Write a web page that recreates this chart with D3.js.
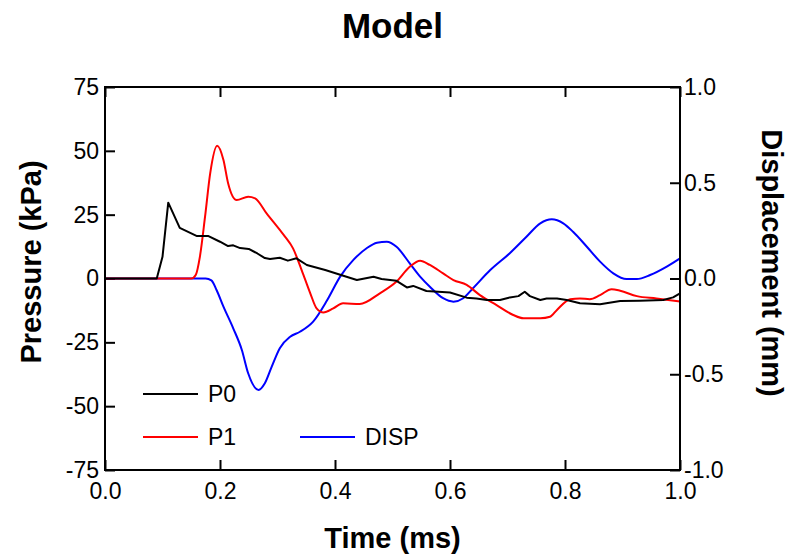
<!DOCTYPE html>
<html>
<head>
<meta charset="utf-8">
<script src="https://cdn.jsdelivr.net/npm/d3@7"></script>
<style>
  html, body { margin: 0; padding: 0; background: #fff; }
  svg { display: block; }
  text { font-family: "Liberation Sans", Arial, sans-serif; }
</style>
</head>
<body>
<svg id="chart" width="789" height="555"></svg>
<script>
// Time axis (ms)
const timeTicks = [0.0, 0.2, 0.4, 0.6, 0.8, 1.0];
// Pressure axis (kPa)
const pressureTicks = [75, 50, 25, 0, -25, -50, -75];
// Displacement axis (mm)
const dispTicks = [1.0, 0.5, 0.0, -0.5, -1.0];

// P0: [time (ms), pressure (kPa)]
const p0 = [
  [0.0, 0], [0.09, 0], [0.10, 8.5], [0.11, 29.7], [0.13, 19.8], [0.16, 16.6],
  [0.18, 16.6], [0.20, 14.4], [0.214, 12.7], [0.223, 13.0], [0.235, 11.9],
  [0.25, 11.6], [0.265, 9.8], [0.278, 8.0], [0.287, 7.6], [0.304, 8.1],
  [0.318, 7.0], [0.333, 7.9], [0.351, 5.3], [0.383, 3.3], [0.42, 0.7],
  [0.438, -0.6], [0.467, 0.7], [0.481, -0.2], [0.507, -0.9], [0.525, -3.5],
  [0.536, -2.9], [0.559, -4.9], [0.60, -5.5], [0.629, -7.5], [0.646, -7.8],
  [0.664, -8.4], [0.687, -8.4], [0.704, -7.4], [0.719, -6.9], [0.73, -5.2],
  [0.739, -6.9], [0.757, -8.4], [0.768, -7.8], [0.786, -7.8], [0.803, -8.4],
  [0.826, -9.7], [0.861, -10.1], [0.896, -8.8], [0.93, -8.7], [0.971, -8.4],
  [0.988, -7.4], [1.0, -5.8]
];

// P1: [time (ms), pressure (kPa)]
const p1 = [
  [0.0, 0], [0.15, 0], [0.158, 1.5], [0.165, 8.5], [0.174, 24.2], [0.183, 41.3],
  [0.195, 52.0], [0.206, 46.4], [0.214, 37.4], [0.229, 30.7], [0.249, 32.0],
  [0.261, 31.4], [0.281, 25.5], [0.304, 19.0], [0.313, 16.4], [0.327, 11.8],
  [0.342, 3.3], [0.357, -5.8], [0.368, -11.7], [0.38, -13.3], [0.397, -11.7],
  [0.414, -9.7], [0.443, -10.0], [0.478, -5.8], [0.507, -1.2], [0.53, 4.6],
  [0.548, 7.0], [0.565, 5.3], [0.588, 2.0], [0.606, -0.6], [0.629, -2.5],
  [0.652, -6.5], [0.681, -10.4], [0.71, -14.3], [0.728, -15.6], [0.757, -15.6],
  [0.774, -15.0], [0.786, -12.3], [0.809, -8.1], [0.826, -7.8], [0.843, -8.1],
  [0.861, -6.5], [0.881, -4.2], [0.896, -4.8], [0.925, -6.9], [0.959, -7.8],
  [1.0, -9.0]
];

// DISP: [time (ms), displacement (mm)]
const disp = [
  [0.0, 0], [0.175, 0], [0.185, -0.01], [0.194, -0.06], [0.206, -0.147],
  [0.223, -0.26], [0.238, -0.373], [0.249, -0.495], [0.267, -0.582],
  [0.278, -0.547], [0.29, -0.46], [0.304, -0.364], [0.322, -0.304],
  [0.339, -0.278], [0.362, -0.225], [0.386, -0.115], [0.409, 0.01],
  [0.432, 0.097], [0.455, 0.158], [0.473, 0.187], [0.49, 0.192], [0.507, 0.166],
  [0.53, 0.079], [0.548, 0.01], [0.565, -0.043], [0.588, -0.103], [0.606, -0.121],
  [0.623, -0.103], [0.64, -0.051], [0.67, 0.044], [0.704, 0.132], [0.733, 0.218],
  [0.757, 0.288], [0.777, 0.309], [0.797, 0.288], [0.814, 0.244], [0.838, 0.166],
  [0.861, 0.088], [0.884, 0.027], [0.907, -0.003], [0.925, -0.003], [0.948, 0.018],
  [0.977, 0.062], [1.0, 0.105]
];

const svg = d3.select("#chart");
const plot = { left: 105, right: 680, top: 87, bottom: 470 };
const tickLen = 10;

const x = d3.scaleLinear().domain([0, 1]).range([plot.left, plot.right]);
const yP = d3.scaleLinear().domain([-75, 75]).range([plot.bottom, plot.top]);
const yD = d3.scaleLinear().domain([-1, 1]).range([plot.bottom, plot.top]);

const g = svg.append("g");

// Number formats using a plain hyphen for negatives
const hyphen = f => v => f(v).replace("\u2212", "-");
const fmt1 = hyphen(d3.format(".1f"));
const fmtInt = hyphen(d3.format("d"));

// Axes with inward ticks
const styleAxis = sel => {
  sel.select(".domain").remove();
  sel.selectAll(".tick line").attr("stroke", "#000").attr("stroke-width", 2);
  sel.selectAll(".tick text")
    .attr("fill", "#000")
    .style("font-size", "23px")
    .style("font-family", "'Liberation Sans', Arial, sans-serif");
};

g.append("g")
  .attr("transform", `translate(0,${plot.bottom})`)
  .call(d3.axisBottom(x).tickValues(timeTicks).tickFormat(fmt1)
    .tickSizeInner(-tickLen).tickSizeOuter(0))
  .call(styleAxis)
  .call(a => a.selectAll(".tick text").attr("dy", "0.71em").attr("y", 13));

g.append("g")
  .attr("transform", `translate(0,${plot.top})`)
  .call(d3.axisTop(x).tickValues(timeTicks).tickFormat("")
    .tickSizeInner(-tickLen).tickSizeOuter(0))
  .call(styleAxis);

g.append("g")
  .attr("transform", `translate(${plot.left},0)`)
  .call(d3.axisLeft(yP).tickValues(pressureTicks).tickFormat(fmtInt)
    .tickSizeInner(-tickLen).tickSizeOuter(0))
  .call(styleAxis)
  .call(a => a.selectAll(".tick text").attr("x", -6));

g.append("g")
  .attr("transform", `translate(${plot.right},0)`)
  .call(d3.axisRight(yD).tickValues(dispTicks).tickFormat(fmt1)
    .tickSizeInner(-tickLen).tickSizeOuter(0))
  .call(styleAxis)
  .call(a => a.selectAll(".tick text").attr("x", 4));

// Series
const lineP = d3.line().x(d => x(d[0])).y(d => yP(d[1]));
const lineSmoothP = d3.line().x(d => x(d[0])).y(d => yP(d[1])).curve(d3.curveMonotoneX);
const lineD = d3.line().x(d => x(d[0])).y(d => yD(d[1])).curve(d3.curveMonotoneX);

g.append("path").datum(disp).attr("d", lineD)
  .attr("fill", "none").attr("stroke", "#0000ff").attr("stroke-width", 2);
g.append("path").datum(p1).attr("d", lineSmoothP)
  .attr("fill", "none").attr("stroke", "#ff0000").attr("stroke-width", 2);
g.append("path").datum(p0).attr("d", lineP)
  .attr("fill", "none").attr("stroke", "#000000").attr("stroke-width", 2)
  .attr("stroke-linejoin", "round");

// Frame
g.append("rect")
  .attr("x", plot.left).attr("y", plot.top)
  .attr("width", plot.right - plot.left).attr("height", plot.bottom - plot.top)
  .attr("fill", "none").attr("stroke", "#000").attr("stroke-width", 2);

// Legend
const legend = [
  { name: "P0", color: "#000000", x: 143, y: 394 },
  { name: "P1", color: "#ff0000", x: 143, y: 437 },
  { name: "DISP", color: "#0000ff", x: 300, y: 437 }
];
const lg = g.append("g");
legend.forEach(d => {
  lg.append("line").attr("x1", d.x).attr("x2", d.x + 55)
    .attr("y1", d.y).attr("y2", d.y)
    .attr("stroke", d.color).attr("stroke-width", 2);
  lg.append("text").attr("x", d.x + 65).attr("y", d.y).attr("dy", "0.36em")
    .style("font-size", "23px").text(d.name);
});

// Titles
svg.append("text").attr("x", 392.5).attr("y", 38).attr("text-anchor", "middle")
  .style("font-size", "35px").style("font-weight", "bold").text("Model");

svg.append("text").attr("x", 392.5).attr("y", 548).attr("text-anchor", "middle")
  .style("font-size", "29px").style("font-weight", "bold").text("Time (ms)");

svg.append("text")
  .attr("transform", "translate(41,262) rotate(-90)")
  .attr("text-anchor", "middle")
  .style("font-size", "29px").style("font-weight", "bold").text("Pressure (kPa)");

svg.append("text")
  .attr("transform", "translate(762,263) rotate(90)")
  .attr("text-anchor", "middle")
  .style("font-size", "29px").style("font-weight", "bold").text("Displacement (mm)");
</script>
</body>
</html>
